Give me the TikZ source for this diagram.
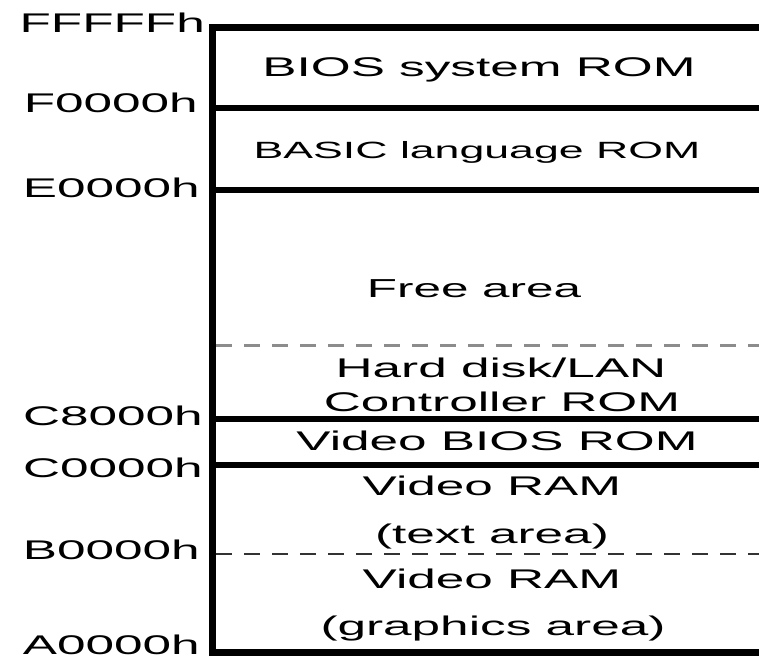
\documentclass[tikz,border=0pt]{standalone}
\usepackage{fontspec}
\newfontfamily\mapfont[FakeStretch=1.9]{Liberation Sans}
\begin{document}
\begin{tikzpicture}[x=1pt,y=-1pt,
  wall/.style={line width=6pt,line join=miter},
  split/.style={line width=2.5pt,dash pattern=on 16pt off 12pt},
  addr/.style={anchor=base east,inner sep=0pt,font=\mapfont\fontsize{27}{27}\selectfont},
  region/.style={anchor=base,inner sep=0pt,font=\mapfont\fontsize{27}{27}\selectfont}]
\useasboundingbox (0,0) rectangle (759,660);

% outer frame of the address space (open on the right)
\coordinate (topR) at (759,28);
\coordinate (topL) at (212,28);
\coordinate (botL) at (212,652);
\coordinate (botR) at (759,652);
\draw[wall,line width=7pt] (topR) -- (topL) -- (botL) -- (botR);

% region boundaries
\draw[wall] (212,108) -- (759,108);
\draw[wall] (212,190) -- (759,190);
\draw[wall] (212,418.5) -- (759,418.5);
\draw[wall] (212,464.5) -- (759,464.5);
\draw[split,draw=black!45,line width=3pt] (216,345) -- (759,345);
\draw[split,draw=black!80] (216,554) -- (759,554);

% addresses
\node[addr] (aF) at (205,33)  {FFFFFh};
\node[addr] (a0F) at (198,113) {F0000h};
\node[addr] (a0E) at (200,197) {E0000h};
\node[addr] (aC8) at (203,425) {C8000h};
\node[addr] (aC0) at (203,477) {C0000h};
\node[addr] (aB0) at (200,559) {B0000h};
\node[addr] (aA0) at (200,654) {A0000h};

% region names
\node[region] (bios)  at (479,77)  {BIOS system ROM};
\node[region,font=\mapfont\fontsize{23.5}{23.5}\selectfont] (basic) at (477,159) {BASIC language ROM};
\node[region,font=\mapfont\fontsize{26}{26}\selectfont] (free)  at (474,297) {Free area};
\node[region] (hd1)   at (501,377) {Hard disk/LAN};
\node[region] (hd2)   at (502,411) {Controller ROM};
\node[region] (vbios) at (497,450) {Video BIOS ROM};
\node[region] (vt1)   at (492,495) {Video RAM};
\node[region] (vt2)   at (492,543) {(text area)};
\node[region] (vg1)   at (492,588) {Video RAM};
\node[region] (vg2)   at (493,635) {(graphics area)};
\end{tikzpicture}
\end{document}
